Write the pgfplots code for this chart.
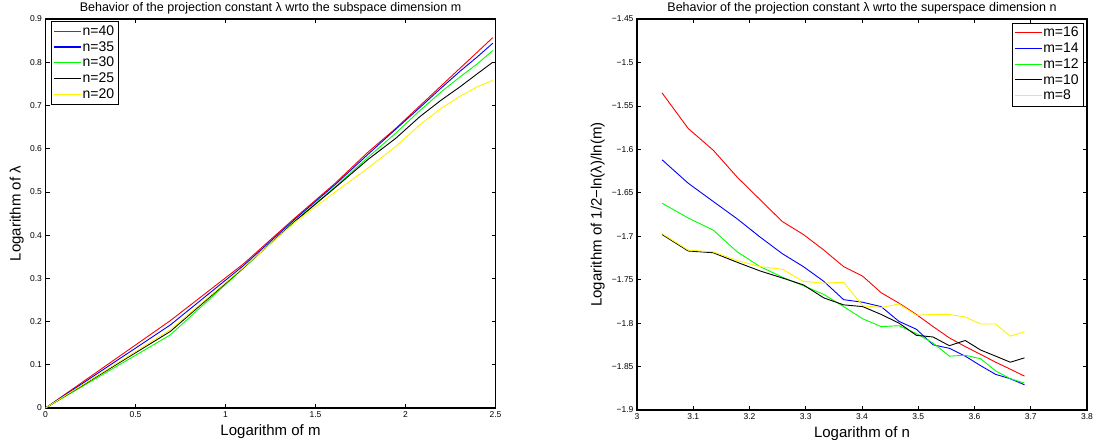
\documentclass[border=0pt]{standalone}
\usepackage{fontspec}
\setmainfont{Liberation Sans}
\usepackage{pgfplots}
\usepackage{pgfplotstable}
\pgfplotsset{compat=1.18}

% log(lambda) against log(m), one column per n
\pgfplotstableread{
x      n40   n35   n30   n25   n20
0      0     0     0     0     0
0.6931 0.202 0.192 0.169 0.177 0.181
1.0986 0.333 0.329 0.323 0.324 0.325
1.3863 0.440 0.437 0.433 0.432 0.430
1.6094 0.520 0.517 0.512 0.510 0.500
1.7918 0.592 0.587 0.580 0.575 0.555
1.9459 0.647 0.645 0.636 0.624 0.605
2.0794 0.699 0.695 0.688 0.674 0.655
2.1972 0.745 0.740 0.731 0.712 0.693
2.3026 0.786 0.779 0.766 0.743 0.721
2.3979 0.823 0.812 0.796 0.773 0.743
2.4849 0.857 0.844 0.827 0.800 0.758
}\subspace

% log(1/2 - ln(lambda)/ln(m)) against log(n), one column per m
\pgfplotstableread{
x      m16    m14    m12    m10    m8
3.0445 -1.535 -1.612 -1.662 -1.698 -1.697
3.0910 -1.576 -1.639 -1.679 -1.717 -1.716
3.1355 -1.601 -1.660 -1.693 -1.719 -1.718
3.1781 -1.632 -1.680 -1.718 -1.730 -1.728
3.2189 -1.658 -1.701 -1.735 -1.740 -1.735
3.2581 -1.683 -1.720 -1.747 -1.748 -1.738
3.2958 -1.698 -1.735 -1.757 -1.756 -1.752
3.3322 -1.716 -1.752 -1.767 -1.771 -1.754
3.3673 -1.735 -1.773 -1.781 -1.779 -1.753
3.4012 -1.746 -1.776 -1.795 -1.781 -1.780
3.4340 -1.765 -1.781 -1.804 -1.790 -1.782
3.4657 -1.777 -1.798 -1.803 -1.800 -1.778
3.4965 -1.790 -1.807 -1.812 -1.814 -1.791
3.5264 -1.804 -1.825 -1.823 -1.816 -1.790
3.5553 -1.817 -1.829 -1.838 -1.826 -1.790
3.5835 -1.827 -1.838 -1.837 -1.820 -1.793
3.6109 -1.836 -1.849 -1.841 -1.831 -1.801
3.6376 -1.845 -1.859 -1.855 -1.838 -1.801
3.6636 -1.853 -1.864 -1.864 -1.845 -1.815
3.6889 -1.861 -1.871 -1.869 -1.840 -1.810
}\superspace

\pgfplotsset{
  matlab/.style={
    scale only axis,
    width=450pt,
    axis line style={line width=1.2pt},
    tick align=inside,
    major tick length=4pt,
    every tick/.style={black, line width=0.7pt},
    tick label style={font=\fontsize{8.5}{10}\selectfont},
    /pgf/number format/assume math mode=true,
    label style={font=\fontsize{15}{17}\selectfont},
    xlabel style={at={(axis description cs:0.5,0)}, anchor=north, inner sep=0pt, yshift=-16pt},
    ylabel style={at={(axis description cs:0,0.5)}, anchor=south, inner sep=0pt},
    every axis title shift=0pt,
    title style={font=\fontsize{12.5}{15}\selectfont, at={(axis description cs:0.5,1)},
      anchor=base, inner sep=0pt, yshift=7.7pt},
    legend style={font=\fontsize{14}{16}\selectfont,
      inner sep=3pt, row sep=1.5pt, nodes={inner sep=1.5pt}, cells={anchor=west}},
    % legend line drawn as a coloured rule, 27pt long
    legend image code/.code={\node[#1, inner sep=0pt, anchor=west, yshift=-0.6pt]
      at (0pt,0pt) {\rule{27pt}{1.2pt}};},
    every axis plot/.append style={line width=0.9pt},
  }
}

\begin{document}
\begin{tikzpicture}
\useasboundingbox (-45.5pt,-31pt) rectangle (1048.5pt,408pt);

\begin{axis}[matlab,
  at={(0pt,0pt)}, height=389pt,
  xmin=0, xmax=2.5, ymin=0, ymax=0.9,
  xtick={0,0.5,1,1.5,2,2.5},
  ytick={0,0.1,0.2,0.3,0.4,0.5,0.6,0.7,0.8,0.9},
  title={Behavior of the projection constant λ wrto the subspace dimension m},
  xlabel={Logarithm of m},
  ylabel={Logarithm of λ},
  ylabel style={yshift=21.5pt},
  legend style={at={(rel axis cs:0.012,0.995)}, anchor=north west},
]
\addplot[red] table[x=x, y=n40] {\subspace};
\addplot[blue] table[x=x, y=n35] {\subspace};
\addplot[green] table[x=x, y=n30] {\subspace};
\addplot[black] table[x=x, y=n25] {\subspace};
\addplot[yellow] table[x=x, y=n20] {\subspace};
\legend{n=40, n=35, n=30, n=25, n=20}
\end{axis}

\begin{axis}[matlab,
  at={(591.5pt,-2pt)}, height=391pt,
  xmin=3, xmax=3.8, ymin=-1.9, ymax=-1.45,
  xtick={3,3.1,3.2,3.3,3.4,3.5,3.6,3.7,3.8},
  ytick={-1.9,-1.85,-1.8,-1.75,-1.7,-1.65,-1.6,-1.55,-1.5,-1.45},
  yticklabels={−1.9,−1.85,−1.8,−1.75,−1.7,−1.65,−1.6,−1.55,−1.5,−1.45},
  title={Behavior of the projection constant λ wrto the superspace dimension n},
  xlabel={Logarithm of n},
  ylabel={Logarithm of 1/2−ln(λ)/ln(m)},
  ylabel style={yshift=32pt},
  legend style={at={(rel axis cs:0.992,0.991)}, anchor=north east},
]
\addplot[red] table[x=x, y=m16] {\superspace};
\addplot[blue] table[x=x, y=m14] {\superspace};
\addplot[green] table[x=x, y=m12] {\superspace};
\addplot[black] table[x=x, y=m10] {\superspace};
\addplot[yellow] table[x=x, y=m8] {\superspace};
\legend{m=16, m=14, m=12, m=10, m=8}
\end{axis}
\end{tikzpicture}
\end{document}
